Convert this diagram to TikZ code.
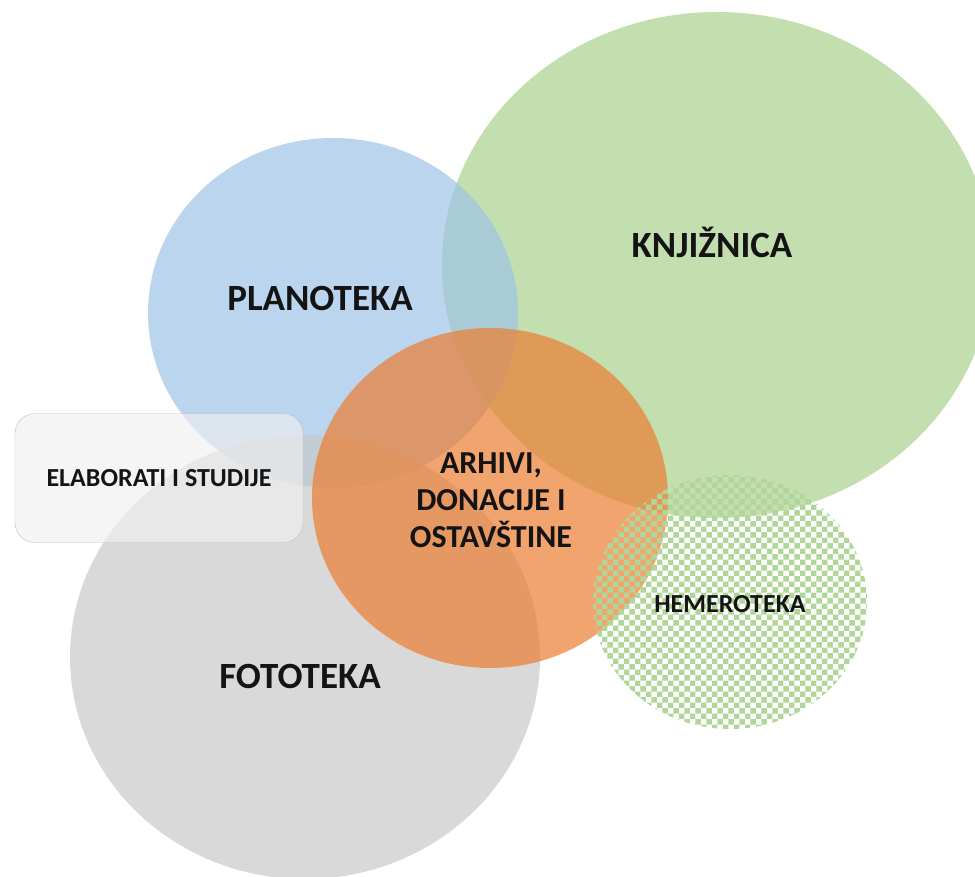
\documentclass[tikz,border=0pt]{standalone}
\usepackage{fontspec}
\setmainfont{Carlito}
\usetikzlibrary{patterns}

\definecolor{knjgreen}{HTML}{A9D18E}
\definecolor{planblue}{HTML}{9DC3E6}
\definecolor{fotogrey}{HTML}{C9C9C9}
\definecolor{arhorange}{HTML}{ED7D31}
\definecolor{hemdots}{HTML}{B0D69A}
\definecolor{boxedge}{HTML}{BFBFBF}
\definecolor{boxfill}{HTML}{F0F0F0}
\definecolor{labelink}{HTML}{141414}

\begin{document}
\begin{tikzpicture}[x=1pt, y=-1pt,
  bubble/.style={fill opacity=0.7},
  biglabel/.style={font=\fontsize{37}{44}\selectfont\bfseries, text=labelink},
  midlabel/.style={font=\fontsize{32}{37}\selectfont\bfseries, text=labelink, align=center},
  smalllabel/.style={font=\fontsize{26}{30}\selectfont\bfseries, text=labelink}]
  \clip (0,0) rectangle (975,877);

  % Knjiznica
  \fill[knjgreen, bubble] (717,265) ellipse [x radius=275, y radius=253];
  \node[biglabel] (knj) at (712,242) {KNJIŽNICA};

  % Planoteka
  \fill[planblue, bubble] (333,313) ellipse [x radius=185, y radius=175];
  \node[biglabel] (plan) at (320,298) {PLANOTEKA};

  % Fototeka
  \fill[fotogrey, bubble] (305,657) ellipse [x radius=235, y radius=222];
  \node[biglabel] (foto) at (300,676) {FOTOTEKA};

  % Arhivi, donacije i ostavstine
  \fill[arhorange, bubble] (490,498) ellipse [x radius=178, y radius=170];
  \node[midlabel] (arh) at (491,500) {ARHIVI,\\DONACIJE I\\OSTAVŠTINE};

  % Hemeroteka (dotted)
  \fill[pattern=checkerboard, pattern color=hemdots] (730,602) ellipse [x radius=137, y radius=127];
  \node[smalllabel] (hem) at (730,604) {HEMEROTEKA};

  % Elaborati i studije
  \node[smalllabel, draw=boxedge, fill=boxfill, fill opacity=0.65, text opacity=1,
    rounded corners=20pt, minimum width=288pt, minimum height=129pt] (elab)
    at (159,478) {ELABORATI I STUDIJE};
\end{tikzpicture}
\end{document}
